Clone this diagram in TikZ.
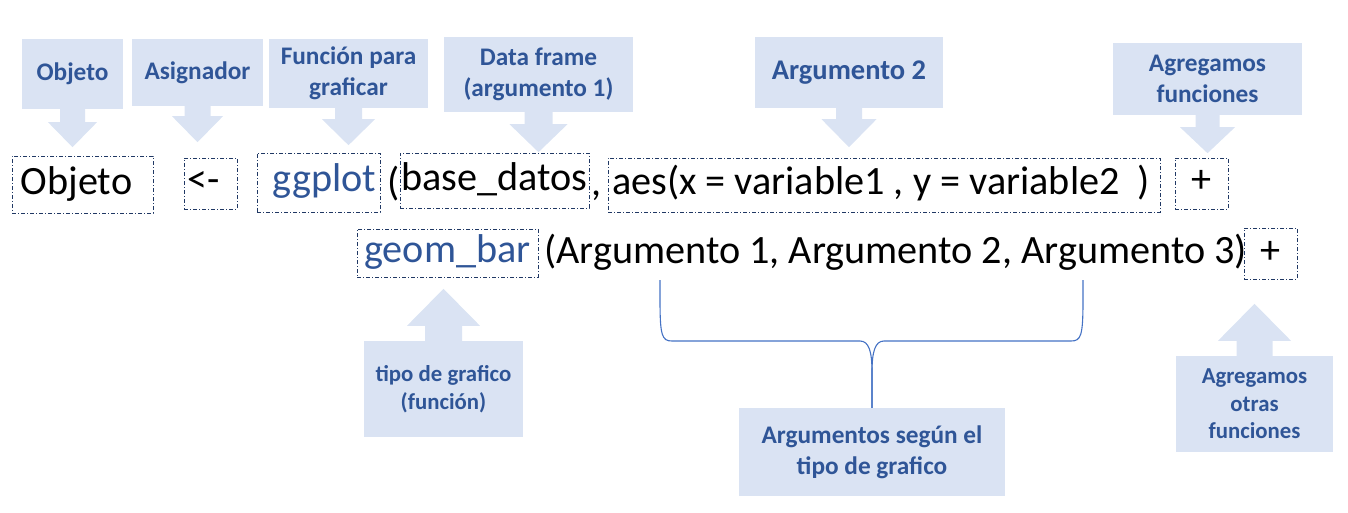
\documentclass[tikz,border=0pt]{standalone}
\usepackage{fontspec}
\setmainfont{Carlito}
\usetikzlibrary{calc}

\definecolor{callfill}{HTML}{DAE3F3}
\definecolor{calltext}{HTML}{2F5597}
\definecolor{boxline}{HTML}{203864}
\definecolor{bracecol}{HTML}{4472C4}

\newcommand{\codefont}{\fontsize{40.2}{48}\selectfont}

\newcommand{\calldown}[5]{%
  \fill[callfill] (#1.south) ++(-#2,-1) -- ++(0,#4+1) -- ++(#2-#3,0) -- ++(#3,#5) -- ++(#3,-#5) -- ++(#2-#3,0) -- ++(0,-#4-1) -- cycle;}
\newcommand{\callup}[5]{%
  \fill[callfill] (#1.north) ++(-#2,1) -- ++(0,-#4-1) -- ++(#2-#3,0) -- ++(#3,-#5) -- ++(#3,#5) -- ++(#2-#3,0) -- ++(0,#4+1) -- cycle;}

\tikzset{
  codebox/.style={
    draw=boxline, line width=0.9pt,
    dash pattern=on 4pt off 2pt on 1pt off 2pt,
    inner sep=0pt, text height=28pt, text depth=9pt,
    font=\codefont
  },
  codetext/.style={inner sep=0pt, anchor=base west, font=\codefont},
  callout/.style={
    fill=callfill, text=calltext, align=center, inner sep=0pt,
    font=\bfseries\fontsize{25.3}{31}\selectfont
  },
  callsmall/.style={callout, font=\bfseries\fontsize{22.8}{27.5}\selectfont},
  callbig/.style={callout, font=\bfseries\fontsize{28.5}{34}\selectfont},
  bracestyle/.style={draw=bracecol, line width=1.1pt}
}

\begin{document}
\begin{tikzpicture}[x=1pt,y=-1pt]
  \useasboundingbox (0,0) rectangle (1348,513);

  % first line of code
  \node[codebox, minimum width=141, minimum height=57] (obj) at (82.5,184.5) {Objeto\kern12pt};
  \node[codebox, minimum width=53, minimum height=51] (asig) at (210.5,183.5) {<-\kern14pt};
  \node[codebox, minimum width=123, minimum height=59, text=calltext] (ggp) at (318.5,182.5) {\kern12pt ggplot};
  \node[codetext] (par) at (387,195) {(};
  \node[codebox, minimum width=189, minimum height=55] (base) at (494.5,180.5) {base\_datos};
  \node[codetext] (comma) at (591,195) {,};
  \node[codebox, minimum width=552, minimum height=54] (aes) at (884,185) {aes(x = variable1 , y = variable2~~)\kern6pt};
  \node[codebox, minimum width=53, minimum height=51] (plus1) at (1201.5,183.5) {+};

  % second line of code
  \node[codebox, minimum width=181, minimum height=48, text=calltext] (geom) at (447.5,253) {geom\_bar};
  \node[codetext] (args) at (544,263) {(Argumento 1, Argumento 2, Argumento 3)};
  \node[codebox, minimum width=53, minimum height=51] (plus2) at (1270.5,253.5) {+};

  % callouts above
  \node[callout, minimum width=101, minimum height=70] (cobj) at (72.5,74) {Objeto};
  \node[callout, minimum width=131, minimum height=67] (casig) at (197.5,72.5) {Asignador};
  \node[callout, minimum width=159, minimum height=69] (cfunc) at (348.5,73.5) {Función para\\graficar};
  \node[callout, minimum width=189, minimum height=75] (cdata) at (538.5,74.5) {Data frame\\(argumento 1)};
  \node[callbig, minimum width=188, minimum height=71] (carg) at (849,72.5) {Argumento 2};
  \node[callout, minimum width=189, minimum height=72] (cadd) at (1207.5,79) {Agregamos\\funciones};

  \foreach \n/\s/\h/\a/\b in {cobj/12.5/24.5/13/25, casig/13/25.5/10/26, cfunc/13.5/26.5/11/26,
                              cdata/14/29/12/28, carg/13/27.5/11/28, cadd/12/27.5/12/26}
    {\calldown{\n}{\s}{\h}{\a}{\b}}

  % callouts below
  \node[callsmall, minimum width=159, minimum height=96] (ctipo) at (443.5,389) {tipo de grafico\\(función)};
  \node[callout, minimum width=266, minimum height=88] (cargs) at (872,452) {Argumentos según el\\tipo de grafico};
  \node[callsmall, minimum width=157, minimum height=96] (cotras) at (1254.5,404) {Agregamos\\otras\\funciones};

  \callup{ctipo}{18.5}{36.5}{15}{37}
  \callup{cotras}{18}{36.5}{15}{37}

  % brace under the arguments
  \coordinate (brl) at (660,280);
  \coordinate (brr) at (1083,280);
  \draw[bracestyle] (brl) -- (660,300) .. controls (660,336) and (662,341) .. (672,341)
    -- (860,341) .. controls (869,341) and (872,352) .. (872,372) -- (cargs.north);
  \draw[bracestyle] (brr) -- (1083,300) .. controls (1083,336) and (1081,341) .. (1071,341)
    -- (884,341) .. controls (875,341) and (872,352) .. (872,372) -- (cargs.north);
\end{tikzpicture}
\end{document}
